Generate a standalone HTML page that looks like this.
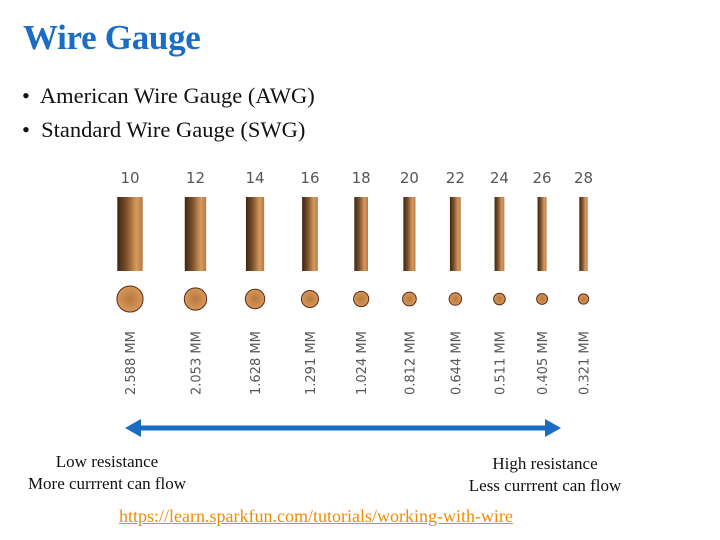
<!DOCTYPE html>
<html><head><meta charset="utf-8"><style>
body{margin:0;background:#fff}
#wrap{position:relative;width:720px;height:540px;overflow:hidden;background:#fff;font-family:"Liberation Serif",serif}
.t{position:absolute;white-space:nowrap}
</style></head><body>
<div id="wrap">
<div class="t" style="left:23px;top:18px;font-size:35px;font-weight:bold;color:#1a6cc4;letter-spacing:-0.3px">Wire Gauge</div>
<div class="t" style="left:22px;top:83px;font-size:22.5px;color:#111">•&nbsp; American Wire Gauge (AWG)</div>
<div class="t" style="left:22px;top:117px;font-size:22.5px;color:#111">•&nbsp; Standard Wire Gauge (SWG)</div>
<svg id="chart" width="720" height="540" style="position:absolute;left:0;top:0">
<defs>
<linearGradient id="cu" x1="0" x2="1" y1="0" y2="0">
<stop offset="0" stop-color="#3d2712"/><stop offset="0.35" stop-color="#7a4e2a"/><stop offset="0.75" stop-color="#d89a5c"/><stop offset="1" stop-color="#b57a45"/>
</linearGradient>
<radialGradient id="cuc"><stop offset="0" stop-color="#b8793d"/><stop offset="1" stop-color="#d9975a"/></radialGradient>
</defs>
<line x1="137" y1="428" x2="550" y2="428" stroke="#1a6cc4" stroke-width="5"/>
<polygon points="125,428 141,419 141,437" fill="#1a6cc4"/>
<polygon points="561,428 545,419 545,437" fill="#1a6cc4"/>
</svg>
<div class="t" style="left:17px;top:451px;font-size:17px;text-align:center;line-height:22px;color:#111;width:180px">Low resistance<br>More currrent can flow</div>
<div class="t" style="left:455px;top:453px;font-size:17px;text-align:center;line-height:22px;color:#111;width:180px">High resistance<br>Less currrent can flow</div>
<div class="t" style="left:119px;top:506px;font-size:18px;color:#f08c00;text-decoration:underline">https://learn.sparkfun.com/tutorials/working-with-wire</div>
</div>
<script>
const gauges=[10,12,14,16,18,20,22,24,26,28];
const diameters=[2.588,2.053,1.628,1.291,1.024,0.812,0.644,0.511,0.405,0.321];
const svg=document.getElementById('chart');
const NS='http://www.w3.org/2000/svg';
function gap(d){return 37+d*11;}
function barW(d){return 6+d*7.5;}
function rad(d){return 4+d*3.5;}
let x=130;
gauges.forEach((g,i)=>{
  const d=diameters[i];
  if(i>0)x+=gap(diameters[i-1]);
  const t=document.createElementNS(NS,'text');
  t.setAttribute('x',x);t.setAttribute('y',183);t.setAttribute('text-anchor','middle');
  t.setAttribute('font-family','DejaVu Sans, sans-serif');t.setAttribute('font-size','15');t.setAttribute('fill','#555');
  t.textContent=g;
  
  
  svg.appendChild(t);
  const w=barW(d);
  const r=document.createElementNS(NS,'rect');
  r.setAttribute('x',x-w/2);r.setAttribute('y',197);r.setAttribute('width',w);r.setAttribute('height',74);r.setAttribute('fill','url(#cu)');
  
  
  svg.appendChild(r);
  const c=document.createElementNS(NS,'circle');
  c.setAttribute('cx',x);c.setAttribute('cy',299);c.setAttribute('r',rad(d));c.setAttribute('fill','url(#cuc)');c.setAttribute('stroke','#5a2a15');c.setAttribute('stroke-width','1');
  
  
  svg.appendChild(c);
  const m=document.createElementNS(NS,'text');
  m.setAttribute('transform','translate('+(x+5)+',395) rotate(-90)');
  m.setAttribute('font-family','DejaVu Sans, sans-serif');m.setAttribute('font-size','13');m.setAttribute('fill','#555');
  m.textContent=d.toFixed(3)+' MM';
  
  
  svg.appendChild(m);
});
</script>
</body></html>
